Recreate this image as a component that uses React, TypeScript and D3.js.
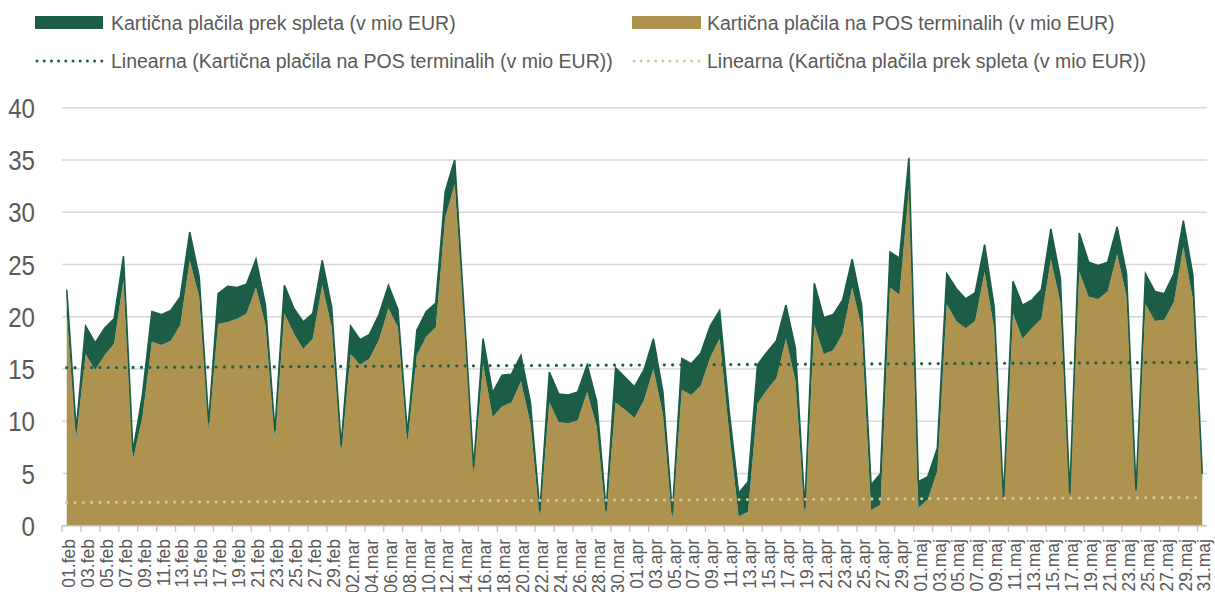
import React from 'react';
import * as d3 from 'd3';

// Categories: daily dates 01.feb – 31.maj (2020)
const monthNames = ['feb', 'mar', 'apr', 'maj'];
const monthDays = [29, 31, 30, 31];
const categories: string[] = monthDays.flatMap((n, m) =>
  d3.range(1, n + 1).map((d) => `${String(d).padStart(2, '0')}.${monthNames[m]}`)
);

// Kartična plačila na POS terminalih (v mio EUR)
const posValues = [
  20.3, 8.4, 16.4, 14.9, 16.3, 17.4, 23.5, 6.3, 10.4, 17.6,
  17.3, 17.7, 19.2, 25.4, 21.9, 9.1, 19.3, 19.5, 19.8, 20.3,
  22.8, 19.2, 8.3, 20.3, 18.4, 16.9, 17.9, 23.0, 19.0, 6.9,
  16.4, 15.4, 16.0, 17.8, 20.8, 19.0, 8.0, 16.3, 18.1, 19.0,
  29.5, 32.7, 19.5, 4.9, 15.5, 10.4, 11.4, 11.8, 13.8, 9.8,
  0.7, 11.8, 9.9, 9.8, 10.1, 12.8, 9.5, 0.8, 11.8, 11.1,
  10.3, 12.0, 15.0, 10.7, 0.5, 13.0, 12.5, 13.4, 16.1, 17.9,
  9.0, 0.9, 1.3, 11.7, 13.0, 14.1, 17.9, 13.9, 1.0, 19.2,
  16.4, 16.8, 18.4, 22.8, 19.0, 1.5, 2.0, 22.8, 22.1, 32.2,
  1.7, 2.5, 5.2, 21.2, 19.6, 18.9, 19.6, 24.3, 18.9, 1.8,
  20.3, 17.9, 18.9, 19.8, 25.5, 21.4, 2.3, 24.3, 21.9, 21.7,
  22.4, 26.0, 21.9, 2.6, 21.2, 19.6, 19.7, 21.4, 26.7, 21.7,
  4.2,
];

// Kartična plačila prek spleta (v mio EUR)
const onlineValues = [
  2.3, 0.8, 2.7, 2.6, 2.6, 2.4, 2.3, 0.8, 2.1, 2.9,
  2.9, 2.9, 2.7, 2.7, 1.9, 0.8, 2.9, 3.4, 3.0, 2.8,
  2.7, 1.9, 0.8, 2.7, 2.4, 2.6, 2.4, 2.4, 1.9, 0.8,
  2.7, 2.4, 2.3, 2.4, 2.2, 1.7, 0.8, 2.4, 2.4, 2.3,
  2.5, 2.3, 1.0, 0.7, 2.4, 2.3, 3.0, 2.7, 2.5, 2.0,
  0.7, 2.9, 2.7, 2.7, 2.7, 2.6, 2.4, 0.7, 3.3, 3.1,
  3.0, 2.9, 2.9, 2.1, 0.7, 3.0, 3.0, 3.1, 3.0, 2.7,
  2.0, 2.2, 2.9, 3.7, 3.6, 3.6, 3.2, 3.1, 0.7, 4.0,
  3.5, 3.4, 3.2, 2.7, 2.1, 2.4, 3.0, 3.4, 3.5, 3.0,
  2.5, 2.2, 2.2, 2.9, 3.1, 2.8, 2.7, 2.6, 2.1, 0.8,
  3.1, 3.2, 2.7, 2.8, 2.9, 2.3, 0.8, 3.7, 3.3, 3.2,
  2.8, 2.6, 2.2, 0.8, 2.9, 2.8, 2.5, 2.7, 2.5, 2.3,
  0.8,
];

const yTicks = [0, 5, 10, 15, 20, 25, 30, 35, 40];

const legendLabels = {
  online: 'Kartična plačila prek spleta (v mio EUR)',
  pos: 'Kartična plačila na POS terminalih (v mio EUR)',
  posTrend: 'Linearna (Kartična plačila na POS terminalih (v mio EUR))',
  onlineTrend: 'Linearna (Kartična plačila prek spleta (v mio EUR))',
};

const GREEN = '#1b5e45';
const GOLD = '#ae924f';
const BEIGE = '#d8c69c';
const TEXT = '#595959';
const FONT = '"Liberation Sans", Arial, sans-serif';

function linReg(vals: number[]) {
  const n = vals.length;
  const mx = (n - 1) / 2;
  const my = d3.mean(vals) as number;
  let sxy = 0, sxx = 0;
  vals.forEach((v, i) => {
    sxy += (i - mx) * (v - my);
    sxx += (i - mx) * (i - mx);
  });
  const b = sxy / sxx;
  const a = my - b * mx;
  return (i: number) => a + b * i;
}

export default function App() {
  const W = 1215, H = 592;
  const left = 62, right = 1207, top = 107.7, bottom = 525.7;

  const rows = categories.map((c, i) => ({ i, pos: posValues[i], online: onlineValues[i] }));

  const x = d3.scaleBand<number>().domain(d3.range(categories.length)).range([left, right]).padding(0);
  const bw = x.bandwidth();
  const cx = (i: number) => (x(i) as number) + bw / 2;
  const y = d3.scaleLinear().domain([0, 40]).range([bottom, top]);

  const stacked = d3.stack<any>().keys(['pos', 'online'])(rows);
  const area = d3.area<any>().x((d) => cx(d.data.i)).y0((d) => y(d[0])).y1((d) => y(d[1]));
  const topLine = d3.line<any>().x((d) => cx(d.data.i)).y((d) => y(d[1]));

  const posTrend = linReg(posValues);
  const onlineTrend = linReg(onlineValues);
  const n = categories.length;
  const trendLine = (f: (i: number) => number) =>
    d3.line<number>().x((i) => cx(i)).y((i) => y(f(i)))([0, n - 1]) as string;

  const tickIdx = d3.range(0, n, 2);
  const LFS = 19.5;

  return (
    <svg width={W} height={H} style={{ position: 'absolute', left: 0, top: 0, background: '#fff' }}>
      {/* gridlines */}
      {yTicks.filter((t) => t > 0).map((t) => (
        <line key={t} x1={left} x2={right} y1={y(t)} y2={y(t)} stroke="#d9d9d9" strokeWidth={1.6} />
      ))}
      {/* y labels */}
      {yTicks.map((t) => (
        <text
          key={'yl' + t}
          transform={`translate(35,${y(t)}) scale(0.86,1)`}
          dy="0.36em"
          textAnchor="end"
          fontFamily={FONT}
          fontSize={28}
          fill={TEXT}
        >
          {t}
        </text>
      ))}
      {/* areas */}
      <path d={area(stacked[0]) as string} fill={GOLD} />
      <path d={area(stacked[1]) as string} fill={GREEN} />
      <path d={topLine(stacked[1]) as string} fill="none" stroke={GREEN} strokeWidth={1.6} />
      {/* trend lines */}
      <path d={trendLine(posTrend)} fill="none" stroke={GREEN} strokeWidth={3.2} strokeDasharray="0 8.3" strokeLinecap="round" />
      <path d={trendLine(onlineTrend)} fill="none" stroke={BEIGE} strokeWidth={3.2} strokeDasharray="0 8.3" strokeLinecap="round" />
      {/* x axis */}
      <line x1={left} x2={right} y1={bottom} y2={bottom} stroke="#bfbfbf" strokeWidth={1.5} />
      {tickIdx.map((i) => (
        <line key={'t' + i} x1={x(i) as number} x2={x(i) as number} y1={bottom} y2={bottom + 6} stroke="#bfbfbf" strokeWidth={1.3} />
      ))}
      {tickIdx.map((i) => (
        <text
          key={'xl' + i}
          transform={`translate(${cx(i) + 8.2},${539}) rotate(-90)`}
          textAnchor="end"
          fontFamily={FONT}
          fontSize={17.5}
          fill={TEXT}
        >
          {categories[i]}
        </text>
      ))}
      {/* legend */}
      <rect x={35} y={16} width={68} height={13} fill={GREEN} />
      <text x={111} y={29.5} fontFamily={FONT} fontSize={LFS} fill={TEXT}>{legendLabels.online}</text>
      <rect x={632} y={16} width={69} height={13} fill={GOLD} />
      <text x={707} y={29.5} fontFamily={FONT} fontSize={LFS} fill={TEXT}>{legendLabels.pos}</text>
      <line x1={37} x2={102} y1={61} y2={61} stroke={GREEN} strokeWidth={3} strokeDasharray="0 7.2" strokeLinecap="round" />
      <text x={111} y={68} fontFamily={FONT} fontSize={LFS} fill={TEXT}>{legendLabels.posTrend}</text>
      <line x1={634} x2={699} y1={61} y2={61} stroke={BEIGE} strokeWidth={3} strokeDasharray="0 7.2" strokeLinecap="round" />
      <text x={707} y={68} fontFamily={FONT} fontSize={LFS} fill={TEXT}>{legendLabels.onlineTrend}</text>
    </svg>
  );
}
